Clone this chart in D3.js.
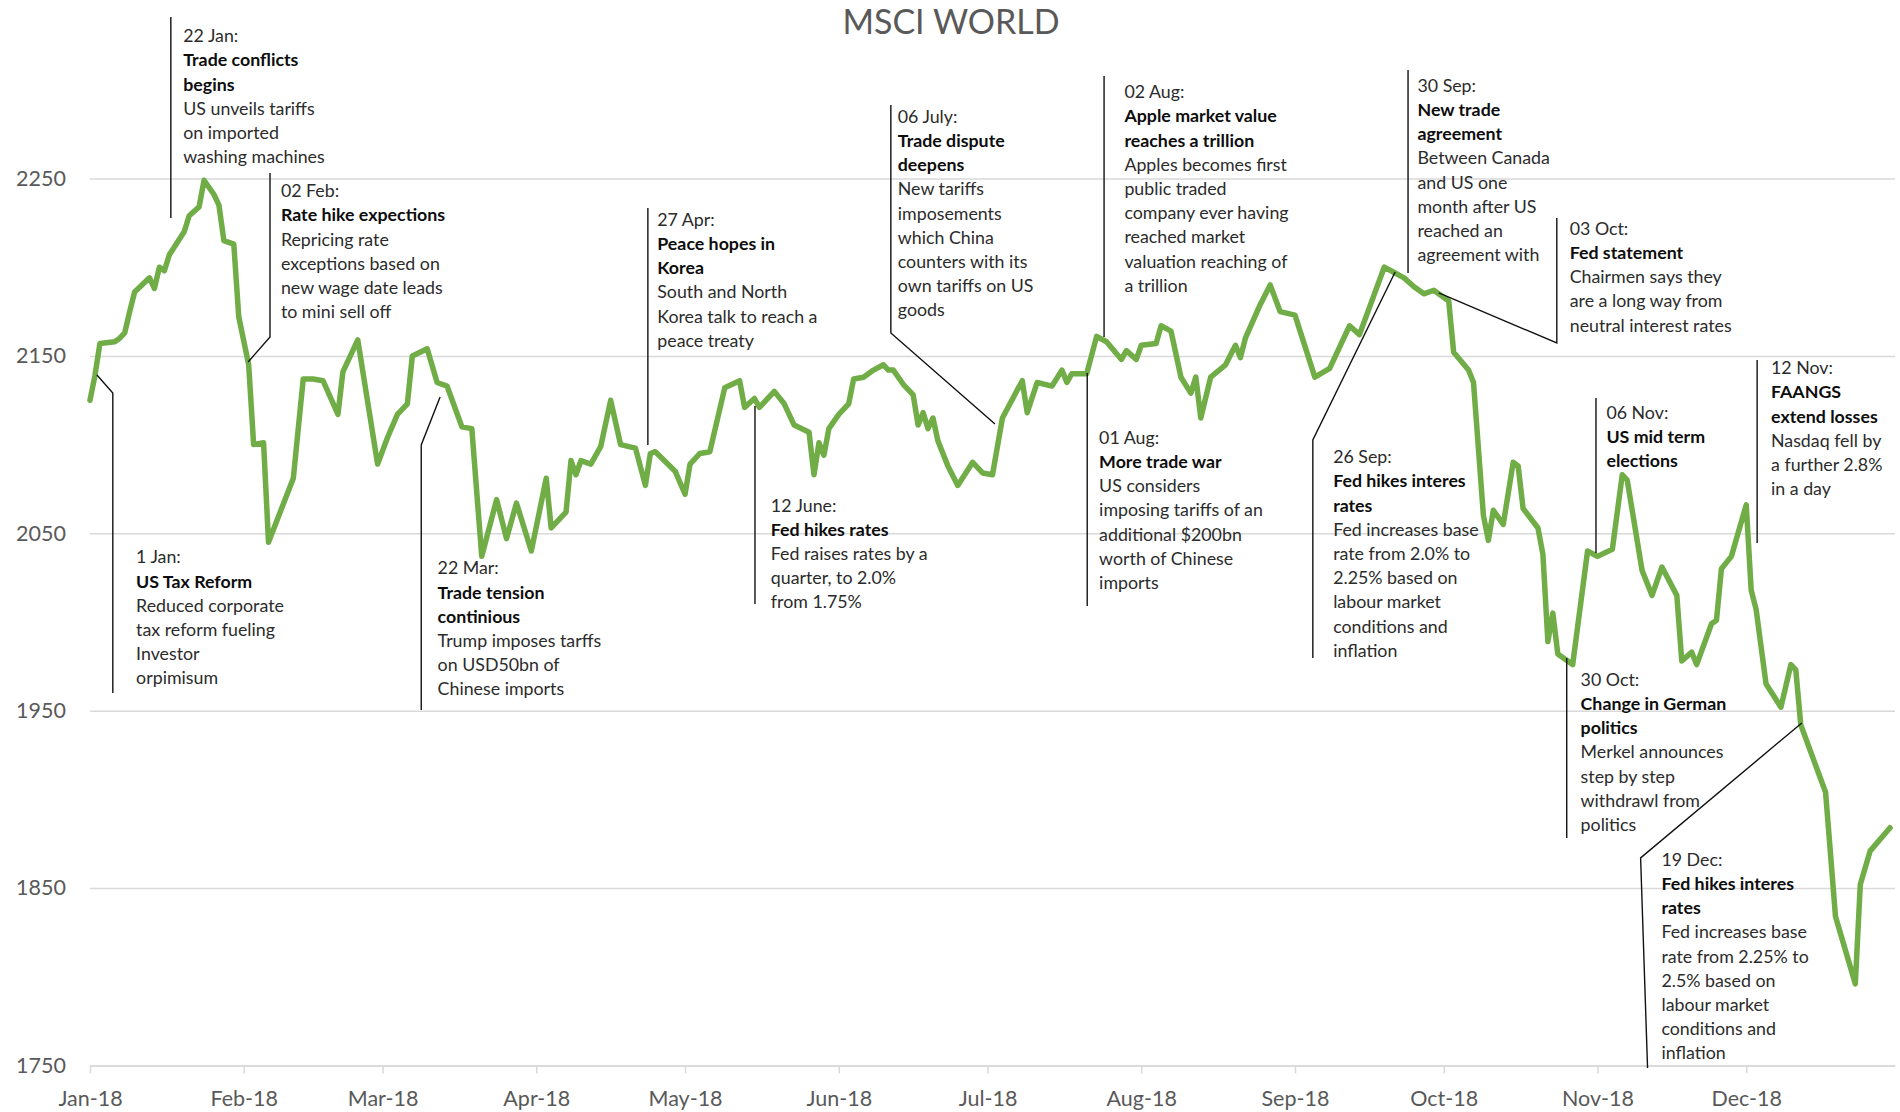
<!DOCTYPE html>
<html>
<head>
<meta charset="utf-8">
<title>MSCI WORLD</title>
<script src="https://cdn.jsdelivr.net/npm/d3@7"></script>
<style>
  body { margin: 0; background: #fff; }
  svg text { font-family: Lato, 'Open Sans', sans-serif; }
</style>
</head>
<body>
<svg id="chart" width="1900" height="1112"></svg>
<script>
// MSCI World index level
const dates = [
  '2018-01-01', '2018-01-02', '2018-01-03', '2018-01-06', '2018-01-07', '2018-01-08', '2018-01-09', '2018-01-10',
  '2018-01-13', '2018-01-14', '2018-01-15', '2018-01-16', '2018-01-17', '2018-01-20', '2018-01-21', '2018-01-23',
  '2018-01-24', '2018-01-26', '2018-01-27', '2018-01-28', '2018-01-30', '2018-01-31', '2018-02-02', '2018-02-03',
  '2018-02-05', '2018-02-06', '2018-02-11', '2018-02-13', '2018-02-15', '2018-02-17', '2018-02-20', '2018-02-21',
  '2018-02-24', '2018-02-28', '2018-03-02', '2018-03-04', '2018-03-06', '2018-03-07', '2018-03-10', '2018-03-12',
  '2018-03-14', '2018-03-17', '2018-03-19', '2018-03-21', '2018-03-24', '2018-03-26', '2018-03-28', '2018-03-31',
  '2018-04-03', '2018-04-04', '2018-04-07', '2018-04-08', '2018-04-09', '2018-04-10', '2018-04-12', '2018-04-14',
  '2018-04-16', '2018-04-18', '2018-04-21', '2018-04-23', '2018-04-24', '2018-04-25', '2018-04-29', '2018-05-01',
  '2018-05-02', '2018-05-04', '2018-05-06', '2018-05-09', '2018-05-12', '2018-05-13', '2018-05-15', '2018-05-16',
  '2018-05-19', '2018-05-21', '2018-05-23', '2018-05-26', '2018-05-27', '2018-05-28', '2018-05-29', '2018-05-30',
  '2018-06-01', '2018-06-03', '2018-06-04', '2018-06-06', '2018-06-08', '2018-06-10', '2018-06-11', '2018-06-12',
  '2018-06-14', '2018-06-16', '2018-06-17', '2018-06-18', '2018-06-19', '2018-06-20', '2018-06-21', '2018-06-23',
  '2018-06-25', '2018-06-28', '2018-06-30', '2018-07-02', '2018-07-04', '2018-07-08', '2018-07-09', '2018-07-11',
  '2018-07-14', '2018-07-16', '2018-07-17', '2018-07-18', '2018-07-21', '2018-07-23', '2018-07-25', '2018-07-28',
  '2018-07-29', '2018-07-31', '2018-08-01', '2018-08-04', '2018-08-05', '2018-08-07', '2018-08-09', '2018-08-11',
  '2018-08-12', '2018-08-13', '2018-08-15', '2018-08-18', '2018-08-20', '2018-08-21', '2018-08-22', '2018-08-25',
  '2018-08-27', '2018-08-29', '2018-09-01', '2018-09-05', '2018-09-08', '2018-09-12', '2018-09-14', '2018-09-19',
  '2018-09-21', '2018-09-23', '2018-09-25', '2018-09-27', '2018-09-29', '2018-10-02', '2018-10-03', '2018-10-06',
  '2018-10-07', '2018-10-09', '2018-10-10', '2018-10-11', '2018-10-13', '2018-10-15', '2018-10-16', '2018-10-17',
  '2018-10-20', '2018-10-21', '2018-10-22', '2018-10-23', '2018-10-24', '2018-10-27', '2018-10-30', '2018-11-01',
  '2018-11-04', '2018-11-06', '2018-11-07', '2018-11-10', '2018-11-12', '2018-11-14', '2018-11-17', '2018-11-18',
  '2018-11-20', '2018-11-21', '2018-11-24', '2018-11-25', '2018-11-26', '2018-11-28', '2018-12-01', '2018-12-02',
  '2018-12-03', '2018-12-05', '2018-12-08', '2018-12-10', '2018-12-11', '2018-12-12', '2018-12-17', '2018-12-19',
  '2018-12-23', '2018-12-24', '2018-12-26', '2018-12-30'
];
const values = [
  2125, 2139, 2157, 2158, 2160, 2163, 2175, 2186,
  2194, 2188, 2200, 2198, 2207, 2220, 2229, 2234,
  2249, 2241, 2235, 2215, 2213, 2172, 2145, 2100,
  2101, 2045, 2081, 2137, 2137, 2136, 2117, 2141,
  2159, 2089, 2104, 2117, 2123, 2150, 2154, 2135,
  2133, 2110, 2109, 2037, 2069, 2047, 2067, 2040,
  2081, 2053, 2062, 2091, 2083, 2091, 2089, 2099,
  2125, 2100, 2098, 2077, 2095, 2096, 2085, 2072,
  2089, 2095, 2096, 2132, 2136, 2121, 2126, 2121,
  2130, 2123, 2111, 2107, 2083, 2101, 2094, 2109,
  2117, 2123, 2137, 2138, 2142, 2145, 2142, 2142,
  2134, 2128, 2111, 2118, 2109, 2115, 2102, 2088,
  2077, 2090, 2084, 2083, 2115, 2136, 2118, 2135,
  2133, 2142, 2135, 2140, 2140, 2161, 2158, 2148,
  2153, 2148, 2156, 2157, 2167, 2164, 2138, 2129,
  2138, 2115, 2138, 2145, 2156, 2149, 2160, 2179,
  2190, 2175, 2173, 2138, 2143, 2167, 2162, 2200,
  2197, 2194, 2189, 2185, 2187, 2181, 2152, 2142,
  2135, 2060, 2046, 2063, 2055, 2090, 2088, 2064,
  2053, 2038, 1989, 2005, 1982, 1976, 2040, 2037,
  2041, 2083, 2080, 2029, 2015, 2031, 2015, 1978,
  1983, 1976, 1999, 2001, 2030, 2037, 2066, 2018,
  2007, 1965, 1952, 1976, 1973, 1942, 1904, 1834,
  1796, 1852, 1871, 1884
];

const yTicks = [1750, 1850, 1950, 2050, 2150, 2250];
const monthTicks = ['2018-01-01', '2018-02-01', '2018-03-01', '2018-04-01', '2018-05-01', '2018-06-01',
                    '2018-07-01', '2018-08-01', '2018-09-01', '2018-10-01', '2018-11-01', '2018-12-01'];
const monthLabels = ['Jan-18', 'Feb-18', 'Mar-18', 'Apr-18', 'May-18', 'Jun-18',
                     'Jul-18', 'Aug-18', 'Sep-18', 'Oct-18', 'Nov-18', 'Dec-18'];

const title = 'MSCI WORLD';

// event notes: date line, bold headline, plain body
const notes = [
  { date: '1 Jan:', head: ['US Tax Reform'], body: ['Reduced corporate', 'tax reform fueling', 'Investor', 'orpimisum'] },
  { date: '22 Jan:', head: ['Trade conflicts', 'begins'], body: ['US unveils tariffs', 'on imported', 'washing machines'] },
  { date: '02 Feb:', head: ['Rate hike expections'], body: ['Repricing rate', 'exceptions based on', 'new wage date leads', 'to mini sell off'] },
  { date: '22 Mar:', head: ['Trade tension', 'continious'], body: ['Trump imposes tarffs', 'on USD50bn of', 'Chinese imports'] },
  { date: '27 Apr:', head: ['Peace hopes in', 'Korea'], body: ['South and North', 'Korea talk to reach a', 'peace treaty'] },
  { date: '06 July:', head: ['Trade dispute', 'deepens'], body: ['New tariffs', 'imposements', 'which China', 'counters with its', 'own tariffs on US', 'goods'] },
  { date: '12 June:', head: ['Fed hikes rates'], body: ['Fed raises rates by a', 'quarter, to 2.0%', 'from 1.75%'] },
  { date: '01 Aug:', head: ['More trade war'], body: ['US considers', 'imposing tariffs of an', 'additional $200bn', 'worth of Chinese', 'imports'] },
  { date: '02 Aug:', head: ['Apple market value', 'reaches a trillion'], body: ['Apples becomes first', 'public traded', 'company ever having', 'reached market', 'valuation reaching of', 'a trillion'] },
  { date: '26 Sep:', head: ['Fed hikes interes', 'rates'], body: ['Fed increases base', 'rate from 2.0% to', '2.25% based on', 'labour market', 'conditions and', 'inflation'] },
  { date: '30 Sep:', head: ['New trade', 'agreement'], body: ['Between Canada', 'and US one', 'month after US', 'reached an', 'agreement with'] },
  { date: '03 Oct:', head: ['Fed statement'], body: ['Chairmen says they', 'are a long way from', 'neutral interest rates'] },
  { date: '30 Oct:', head: ['Change in German', 'politics'], body: ['Merkel announces', 'step by step', 'withdrawl from', 'politics'] },
  { date: '06 Nov:', head: ['US mid term', 'elections'], body: [] },
  { date: '12 Nov:', head: ['FAANGS', 'extend losses'], body: ['Nasdaq fell by', 'a further 2.8%', 'in a day'] },
  { date: '19 Dec:', head: ['Fed hikes interes', 'rates'], body: ['Fed increases base', 'rate from 2.25% to', '2.5% based on', 'labour market', 'conditions and', 'inflation'] }
];

// where each note sits, in chart units: [days since 1 Jan, index level]
const noteAt = [
  [9.3, 2036.6], [18.8, 2330.3], [38.5, 2243.0], [70.1, 2030.4], [114.4, 2226.9], [162.9, 2284.9],
  [137.3, 2065.7], [203.5, 2104.0], [208.6, 2298.8], [250.7, 2093.0], [267.7, 2302.4], [298.4, 2221.8],
  [300.6, 1967.6], [305.8, 2118.1], [339.0, 2143.2], [316.9, 1866.1]
];
const leaders = [
  [[1.4, 2139.2], [4.6, 2129.1], [4.6, 1960.0]],
  [[16.3, 2341.0], [16.3, 2227.7]],
  [[36.3, 2253.1], [36.3, 2160.7], [31.9, 2146.6]],
  [[70.6, 2126.8], [66.8, 2099.8], [66.8, 1950.4]],
  [[112.5, 2233.4], [112.5, 2099.8]],
  [[161.5, 2291.4], [161.5, 2162.9], [182.5, 2111.6]],
  [[134.1, 2121.8], [134.1, 2010.1]],
  [[201.1, 2140.4], [201.1, 2009.0]],
  [[204.5, 2307.8], [204.5, 2160.7]],
  [[263.2, 2197.3], [246.6, 2102.6], [246.6, 1979.7]],
  [[265.8, 2311.2], [265.8, 2196.7]],
  [[272.0, 2185.5], [295.8, 2157.3], [295.8, 2227.7]],
  [[297.8, 1979.7], [297.8, 1878.2]],
  [[303.7, 2126.3], [303.7, 2038.9]],
  [[336.2, 2147.7], [336.2, 2044.5]],
  [[345.2, 1943.1], [312.7, 1867.0], [314.1, 1748.6]]
];

const parse = d3.utcParse('%Y-%m-%d');
const start = parse('2018-01-01');
const dayOf = d => new Date(start.getTime() + d * 864e5);

const series = dates.map((d, i) => ({ date: parse(d), value: values[i] }));

const svg = d3.select('#chart');

const x = d3.scaleUtc()
  .domain([start, parse('2018-12-31')])
  .range([90, 1895]);
const y = d3.scaleLinear()
  .domain([1750, 2250])
  .range([1065.5, 178.5]);

const plotWidth = x.range()[1] - x.range()[0];

// horizontal gridlines
svg.append('g')
  .attr('transform', `translate(${x.range()[0]},0)`)
  .call(d3.axisLeft(y).tickValues(yTicks).tickSize(-plotWidth).tickFormat(''))
  .call(g => g.select('.domain').remove())
  .call(g => g.selectAll('line').attr('stroke', '#d9d9d9').attr('stroke-width', 1.5));

// y labels
svg.append('g')
  .attr('transform', `translate(${x.range()[0]},0)`)
  .call(d3.axisLeft(y).tickValues(yTicks).tickSize(0).tickPadding(24).tickFormat(d3.format('d')))
  .call(g => g.select('.domain').remove())
  .call(g => g.selectAll('text')
    .attr('fill', '#595959')
    .style('font-size', '21.5px'));

// x axis with month ticks
svg.append('g')
  .attr('transform', `translate(0,${y(1750)})`)
  .call(d3.axisBottom(x)
    .tickValues(monthTicks.map(parse))
    .tickFormat((d, i) => monthLabels[i])
    .tickSize(8)
    .tickSizeOuter(0)
    .tickPadding(17))
  .call(g => g.select('.domain').attr('stroke', '#d9d9d9').attr('stroke-width', 1.5))
  .call(g => g.selectAll('line').attr('stroke', '#d9d9d9').attr('stroke-width', 1.5))
  .call(g => g.selectAll('text')
    .attr('fill', '#595959')
    .style('font-size', '21.5px'));

// index line
const line = d3.line()
  .x(d => x(d.date))
  .y(d => y(d.value));

svg.append('path')
  .datum(series)
  .attr('d', line)
  .attr('fill', 'none')
  .attr('stroke', '#70ad47')
  .attr('stroke-width', 5.5)
  .attr('stroke-linejoin', 'round')
  .attr('stroke-linecap', 'round');

// leader lines for the notes
const leaderLine = d3.line()
  .x(p => x(dayOf(p[0])))
  .y(p => y(p[1]));

svg.append('g')
  .selectAll('path')
  .data(leaders)
  .enter().append('path')
  .attr('d', leaderLine)
  .attr('fill', 'none')
  .attr('stroke', '#111')
  .attr('stroke-width', 1.4);

// note texts
const lineGap = 24.2;
notes.forEach((n, i) => {
  const rows = [[n.date, false]]
    .concat(n.head.map(t => [t, true]))
    .concat(n.body.map(t => [t, false]));
  const tx = x(dayOf(noteAt[i][0]));
  const ty = y(noteAt[i][1]);
  const text = svg.append('text')
    .style('font-size', '17.8px');
  rows.forEach((r, j) => {
    text.append('tspan')
      .attr('x', tx)
      .attr('y', ty + j * lineGap)
      .attr('dy', '0.35em')
      .attr('fill', r[1] ? '#0d0d0d' : '#2b2b2b')
      .style('font-weight', r[1] ? 'bold' : 'normal')
      .text(r[0]);
  });
});

// chart title
svg.append('text')
  .attr('x', 951)
  .attr('y', 22)
  .attr('dy', '0.35em')
  .attr('text-anchor', 'middle')
  .attr('fill', '#595959')
  .style('font-size', '34px')
  .text(title);
</script>
</body>
</html>
